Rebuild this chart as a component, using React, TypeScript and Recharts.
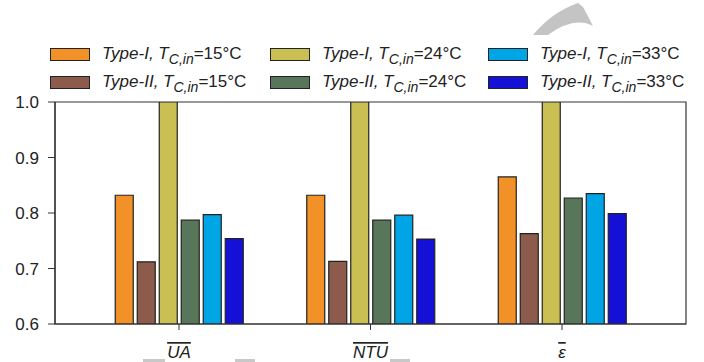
import React from 'react';
import { BarChart, Bar, XAxis, YAxis, ReferenceArea } from 'recharts';

const categories = ['UA', 'NTU', 'ε'];
const categoryPos = [1, 2, 3];
const seriesKeys = ['t1_15', 't2_15', 't1_24', 't2_24', 't1_33', 't2_33'];
const seriesTypes = ['Type-I', 'Type-II', 'Type-I', 'Type-II', 'Type-I', 'Type-II'];
const seriesTemps = ['15', '15', '24', '24', '33', '33'];
const seriesColors = ['#F39129', '#8C5B4B', '#C9BF52', '#58765A', '#00A5E5', '#1510D6'];

const type1At15 = [0.832, 0.832, 0.865];
const type2At15 = [0.712, 0.713, 0.763];
const type1At24 = [1.0, 1.0, 1.0];
const type2At24 = [0.787, 0.787, 0.827];
const type1At33 = [0.797, 0.796, 0.835];
const type2At33 = [0.754, 0.753, 0.799];

const yTicks = [0.6, 0.7, 0.8, 0.9, 1.0];
const xDomain = [0.3525, 3.6475];

const seriesValues = [type1At15, type2At15, type1At24, type2At24, type1At33, type2At33];

const data = categories.map((c, i) => {
    const row: Record<string, string | number> = { name: c, pos: categoryPos[i] };
    seriesKeys.forEach((k, s) => { row[k] = seriesValues[s][i]; });
    return row;
});

const FONT = '"Liberation Sans", Arial, sans-serif';

// legend laid out in columns by temperature, rows by type
const legendCols = [[0, 1], [2, 3], [4, 5]];
const colLeft = [50, 270, 488];
const rowTop = [47, 75];

// eslint-disable-next-line @typescript-eslint/no-explicit-any
function XTick({ x, y, payload }: any) {
    return (
        <text
            x={x}
            y={y + 26}
            textAnchor="middle"
            fontFamily={FONT}
            fontSize={17}
            fontStyle="italic"
            fill="#222"
            style={{ textDecoration: 'overline' }}
        >
            {categories[categoryPos.indexOf(payload.value)]}
        </text>
    );
}

function LegendLabel({ idx }: { idx: number }) {
    return (
        <div style={{ position: 'absolute', display: 'flex', alignItems: 'center' }}>
            <span
                style={{
                    width: 38, height: 11, background: seriesColors[idx],
                    border: '1px solid #222', display: 'inline-block', marginRight: 12,
                }}
            />
            <span style={{ fontFamily: FONT, fontSize: 17, color: '#222', whiteSpace: 'nowrap' }}>
                <i>{seriesTypes[idx]}, T</i>
                <i style={{ fontSize: 14, position: 'relative', top: 5 }}>C,in</i>
                ={seriesTemps[idx]}°C
            </span>
        </div>
    );
}

export default function App() {
    return (
        <div style={{ position: 'absolute', left: 0, top: 0, width: 704, height: 362, background: '#fff' }}>
            {legendCols.map((col, c) =>
                col.map((idx, r) => (
                    <div key={`lg-${idx}`} style={{ position: 'absolute', left: colLeft[c], top: rowTop[r] - 3 }}>
                        <LegendLabel idx={idx} />
                    </div>
                )),
            )}
            <svg width={704} height={362} style={{ position: 'absolute', left: 0, top: 0, pointerEvents: 'none' }}>
                <path d="M533,35 Q552,12 578,3 L583,7 Q588,16 593,26 Q574,16 548,35 Z" fill="#C4C4C4" />
                <rect x={143} y={359} width={22} height={3} fill="#C8C8C8" />
                <rect x={235} y={359} width={20} height={3} fill="#C8C8C8" />
                <rect x={390} y={359} width={20} height={3} fill="#C8C8C8" />
            </svg>
            <BarChart
                width={704}
                height={362}
                data={data}
                margin={{ top: 102, right: 18, left: 0, bottom: 8 }}
                barSize={18}
                barGap={4}
                style={{ position: 'absolute', left: 0, top: 0 }}
            >
                {/* box frame round the plot area */}
                <ReferenceArea y1={0.6} y2={1.0} fill="none" stroke="#333" strokeWidth={1.2} fillOpacity={0} strokeOpacity={1} />
                <XAxis
                    dataKey="pos"
                    type="number"
                    domain={xDomain}
                    ticks={categoryPos}
                    allowDataOverflow
                    tick={<XTick />}
                    tickSize={6}
                    height={30}
                    axisLine={{ stroke: '#333', strokeWidth: 1.2 }}
                    tickLine={{ stroke: '#333' }}
                    interval={0}
                />
                <YAxis
                    domain={[0.6, 1.0]}
                    ticks={yTicks}
                    allowDataOverflow
                    width={55}
                    tickSize={7}
                    tickMargin={9}
                    tickFormatter={v => v.toFixed(1)}
                    tick={{ fontSize: 17, fill: '#222', fontFamily: FONT }}
                    axisLine={{ stroke: '#333', strokeWidth: 1.2 }}
                    tickLine={{ stroke: '#333' }}
                />
                {seriesKeys.map((k, i) => (
                    <Bar
                        key={k}
                        dataKey={k}
                        fill={seriesColors[i]}
                        stroke="#222"
                        strokeWidth={1.2}
                        isAnimationActive={false}
                    />
                ))}
            </BarChart>
        </div>
    );
}
